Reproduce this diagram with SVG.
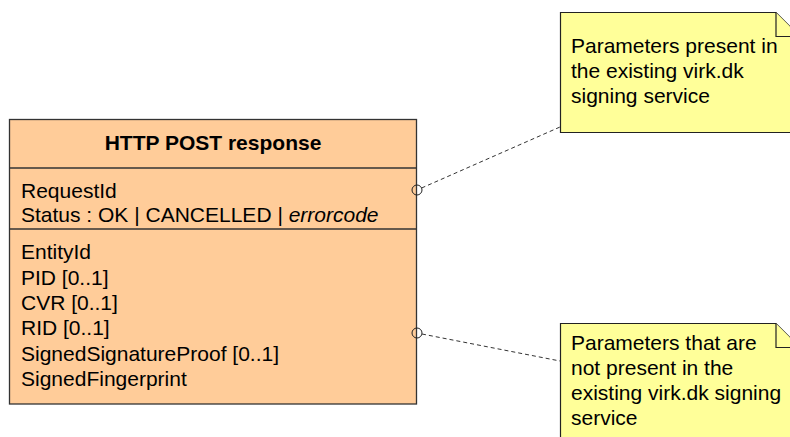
<svg xmlns="http://www.w3.org/2000/svg" width="790" height="437" viewBox="0 0 790 437">
<style>
.t{font-family:"Liberation Sans",Arial,sans-serif;font-size:21px;fill:#000}
.b{font-weight:bold}
.box{fill:#FFCC99;stroke:#333;stroke-width:1.3}
.note{fill:#FFFF99;stroke:#222;stroke-width:1.2}
.sep{stroke:#333;stroke-width:1.3}
.conn{fill:none;stroke:#333;stroke-width:1;stroke-dasharray:4,3}
.anchor{fill:none;stroke:#222;stroke-width:1}
</style>
<rect width="790" height="437" fill="#fff"/>
<g id="class-http-post-response">
<rect class="box" x="9.5" y="119.5" width="407" height="284.5"/>
<line class="sep" x1="9.5" y1="168" x2="416.5" y2="168"/>
<line class="sep" x1="9.5" y1="229" x2="416.5" y2="229"/>
<text class="t b" x="213" y="150" text-anchor="middle">HTTP POST response</text>
<text class="t" x="21" y="198">RequestId</text>
<text class="t" x="21" y="222">Status : OK | CANCELLED | <tspan font-style="italic">errorcode</tspan></text>
<text class="t" x="21" y="259">EntityId</text>
<text class="t" x="21" y="284.5">PID [0..1]</text>
<text class="t" x="21" y="310">CVR [0..1]</text>
<text class="t" x="21" y="335">RID [0..1]</text>
<text class="t" x="21" y="360.5">SignedSignatureProof [0..1]</text>
<text class="t" x="21" y="386">SignedFingerprint</text>
</g>
<g id="note-present">
<path class="note" d="M560.5,12.5 H776 L800,36.5 V132.5 H560.5 Z"/>
<path class="note" d="M776,12.5 V36.5 H800"/>
<text class="t" x="571" y="53">Parameters present in</text>
<text class="t" x="571" y="78">the existing virk.dk</text>
<text class="t" x="571" y="103">signing service</text>
</g>
<g id="note-not-present">
<path class="note" d="M560.5,323.5 H776 L800,347.5 V445 H560.5 Z"/>
<path class="note" d="M776,323.5 V347.5 H800"/>
<text class="t" x="571" y="350">Parameters that are</text>
<text class="t" x="571" y="375">not present in the</text>
<text class="t" x="571" y="400">existing virk.dk signing</text>
<text class="t" x="571" y="425">service</text>
</g>
<g id="connectors">
<circle class="anchor" cx="417" cy="190" r="5"/>
<line class="conn" x1="421.6" y1="188" x2="560" y2="127"/>
<circle class="anchor" cx="417" cy="333" r="5"/>
<line class="conn" x1="422" y1="334" x2="560" y2="361"/>
</g>
</svg>
